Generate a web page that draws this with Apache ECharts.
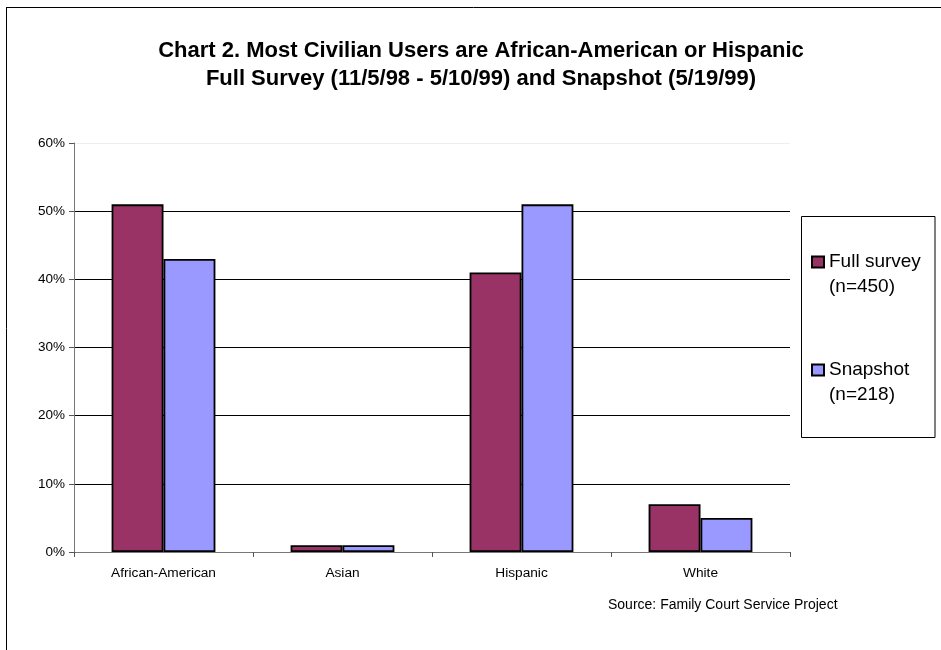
<!DOCTYPE html>
<html><head><meta charset="utf-8">
<script src="https://cdn.jsdelivr.net/npm/echarts@6/dist/echarts.min.js"></script>
<style>html,body{margin:0;padding:0;background:#fff}#c{width:941px;height:650px}</style>
</head><body><div id="c"></div>
<script>
const categories = ['African-American', 'Asian', 'Hispanic', 'White'];
const fullSurvey = [51, 1, 41, 7];
const snapshot = [43, 1, 51, 5];
const seriesNames = ['Full survey', 'Snapshot'];
const seriesCounts = ['(n=450)', '(n=218)'];
const yTicks = [0, 10, 20, 30, 40, 50, 60];

const chart = echarts.init(document.getElementById('c'), null, {renderer: 'canvas'});
const font = 'Arial, "Liberation Sans", sans-serif';
chart.setOption({
  animation: false,
  backgroundColor: '#fff',
  title: {
    text: 'Chart 2. Most Civilian Users are African-American or Hispanic\nFull Survey (11/5/98 - 5/10/99) and Snapshot (5/19/99)',
    left: 476, top: 32, textAlign: 'center',
    textStyle: {fontFamily: font, fontSize: 22, fontWeight: 'bold', color: '#000', lineHeight: 28}
  },
  grid: {left: 74, right: 151, top: 143, bottom: 98},
  legend: {
    orient: 'vertical', left: 811, top: 252, itemGap: 88, padding: 0,
    itemWidth: 12, itemHeight: 11, icon: 'rect',
    data: seriesNames,
    textStyle: {fontFamily: font, fontSize: 19, color: '#000', lineHeight: 20}
  },
  xAxis: {
    type: 'category', data: categories,
    axisLine: {lineStyle: {color: '#777', width: 1}},
    axisTick: {show: true, length: 5, lineStyle: {color: '#555'}},
    axisLabel: {fontFamily: font, fontSize: 13.7, color: '#000', margin: 14}
  },
  yAxis: {
    type: 'value', min: 0, max: 60, interval: 10,
    axisLine: {show: true, lineStyle: {color: '#777'}},
    axisTick: {show: true, length: 5, lineStyle: {color: '#555'}},
    axisLabel: {fontFamily: font, fontSize: 13.5, color: '#000', formatter: v => yTicks.includes(v) ? v + '%' : '', margin: 9},
    splitLine: {lineStyle: {color: ['#000', '#000', '#000', '#000', '#000', '#000', '#eee'], width: 1}}
  },
  series: [
    {name: seriesNames[0], type: 'bar', data: fullSurvey, barGap: '0%', barCategoryGap: '42%',
     itemStyle: {color: '#993366', borderColor: '#000', borderWidth: 1.8}},
    {name: seriesNames[1], type: 'bar', data: snapshot, barGap: '0%', barCategoryGap: '42%',
     itemStyle: {color: '#9999FF', borderColor: '#000', borderWidth: 1.8}}
  ],
  graphic: [
    {type: 'line', shape: {x1: 6.5, y1: 7, x2: 6.5, y2: 650}, style: {stroke: '#000', lineWidth: 1}},
    {type: 'line', shape: {x1: 6, y1: 7.5, x2: 941, y2: 7.5}, style: {stroke: '#000', lineWidth: 1}},
    {type: 'rect', shape: {x: 801.5, y: 216.5, width: 133.5, height: 221}, style: {fill: 'none', stroke: '#000', lineWidth: 1}, z: -1},
    {type: 'text', x: 829, y: 287, style: {text: seriesCounts[0], font: '19px Arial, "Liberation Sans", sans-serif', fill: '#000', verticalAlign: 'middle'}},
    {type: 'text', x: 829, y: 395, style: {text: seriesCounts[1], font: '19px Arial, "Liberation Sans", sans-serif', fill: '#000', verticalAlign: 'middle'}},
    {type: 'text', x: 608, y: 605, style: {text: 'Source: Family Court Service Project', font: '14px Arial, "Liberation Sans", sans-serif', fill: '#000', verticalAlign: 'middle'}}
  ]
});
</script></body></html>
